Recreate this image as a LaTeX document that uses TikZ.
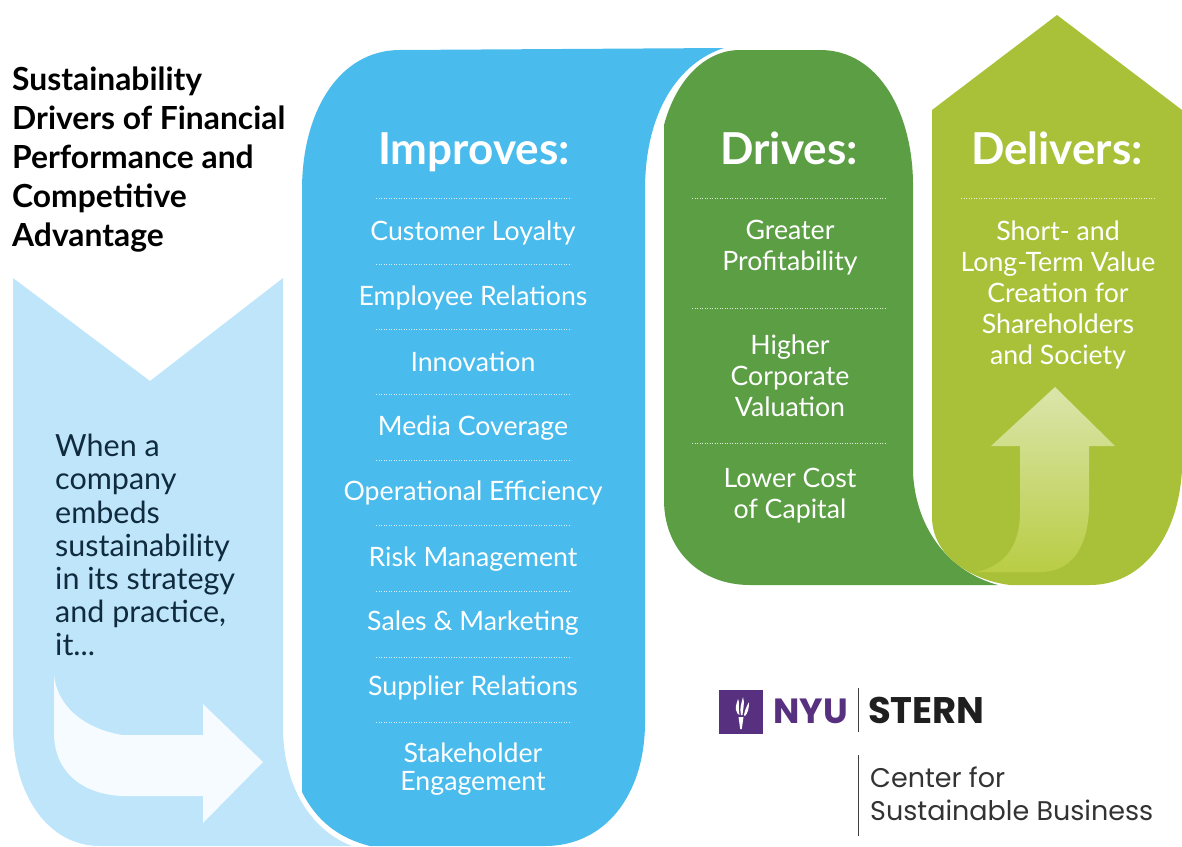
\documentclass[tikz,border=0pt]{standalone}
\usepackage{fontspec}
\setmainfont{Lato}
\newfontfamily\logofont{Poppins}
\definecolor{paleblue}{HTML}{BFE5FB}
\definecolor{arrowwhite}{HTML}{F5FBFF}
\definecolor{improveblue}{HTML}{49BBEC}
\definecolor{drivegreen}{HTML}{5B9E44}
\definecolor{deliverolive}{HTML}{A9C138}
\definecolor{inkblue}{HTML}{0F2B3D}
\definecolor{nyupurple}{HTML}{57307F}
\tikzset{
  heading/.style={anchor=base,text=white,font=\bfseries\fontsize{44}{46}\selectfont},
  item/.style={text=white,align=center,font=\fontsize{26.7}{31}\selectfont},
  sepline/.style={draw=white,line width=.5pt,dotted,opacity=.8},
  rule/.style={draw=black!75,line width=1pt},
}
\begin{document}
\begin{tikzpicture}
  [x=1pt,y=-1pt,every node/.style={inner sep=0pt}]
  \useasboundingbox (0,0) rectangle (1182,846);

  % pale chevron
  \fill[paleblue] (13,278) -- (150,381) -- (283,278) -- (283,727)
    .. controls (283,785) and (310,830) .. (352,846) -- (100,846)
    .. controls (48,846) and (13,795) .. (13,727) -- cycle;
  \fill[arrowwhite] (54,675) .. controls (57,705) and (82,728) .. (122,735)
    -- (203,735) -- (203,704) -- (263,762) -- (203,823) -- (203,796) -- (122,796)
    .. controls (80,794) and (54,770) .. (54,733) -- cycle;

  % improves
  \fill[improveblue] (302,190) .. controls (302,110) and (340,50) .. (400,50)
    -- (724,48) .. controls (680,62) and (645,110) .. (645,190) -- (645,722)
    .. controls (645,795) and (605,846) .. (545,846) -- (370,846)
    .. controls (338,838) and (316,820) .. (302,792) -- cycle;

  % drives
  \fill[drivegreen] (664,125) .. controls (676,80) and (705,50) .. (740,50) -- (820,50)
    .. controls (880,50) and (913,115) .. (913,185) -- (913,473)
    .. controls (916,530) and (950,572) .. (998,585) -- (750,585)
    .. controls (700,585) and (664,550) .. (664,500) -- cycle;

  % delivers
  \fill[deliverolive] (1057,15) -- (1182,110) -- (1182,470)
    .. controls (1178,540) and (1140,585) .. (1090,585) -- (1010,585)
    .. controls (970,580) and (932,555) .. (932,517) -- (932,110) -- cycle;
  \shade[top color=white!58!deliverolive,bottom color=white!10!deliverolive!90!yellow]
    (1055,387) -- (1115,446) -- (1089,446) -- (1089,510)
    .. controls (1087,550) and (1070,572) .. (1040,572) -- (975,572)
    .. controls (1000,568) and (1020,550) .. (1020,513) -- (1020,446) -- (991,446) -- cycle;

  % dotted separators
  \draw[sepline] (376,198) -- (571,198);
  \draw[sepline] (376,264) -- (571,264);
  \draw[sepline] (376,329) -- (571,329);
  \draw[sepline] (376,394) -- (571,394);
  \draw[sepline] (376,460) -- (571,460);
  \draw[sepline] (376,525) -- (571,525);
  \draw[sepline] (376,591) -- (571,591);
  \draw[sepline] (376,657) -- (571,657);
  \draw[sepline] (376,722) -- (571,722);
  \draw[sepline] (692,198) -- (887,198);
  \draw[sepline] (692,308) -- (887,308);
  \draw[sepline] (692,443) -- (887,443);
  \draw[sepline] (961,198) -- (1155,198);

  % headline and lead-in
  \node (title) [anchor=north west,align=left,text=black,
    font=\bfseries\fontsize{31.8}{39}\selectfont] at (12,67)
    {Sustainability\\Drivers of Financial\\Performance and\\Competitive\\Advantage};
  \node (lead) [anchor=north west,align=left,text=inkblue,
    font=\fontsize{30.5}{33.2}\selectfont] at (55,434)
    {When a\\company\\embeds\\sustainability\\in its strategy\\and practice,\\it...};

  % improves column
  \node (improves) [heading] at (474,164) {Improves:};
  \node (loyalty) [item] at (473,233) {Customer Loyalty};
  \node (employee) [item] at (473,298) {Employee Relations};
  \node (innovation) [item] at (473,362) {Innovation};
  \node (media) [item] at (473,428) {Media Coverage};
  \node (efficiency) [item] at (473,493) {Operational Efficiency};
  \node (risk) [item] at (473,559) {Risk Management};
  \node (sales) [item] at (473,623) {Sales \& Marketing};
  \node (supplier) [item] at (473,688) {Supplier Relations};
  \node (stakeholder) [item,font=\fontsize{26.7}{28}\selectfont] at (473,769) {Stakeholder\\Engagement};

  % drives column
  \node (drives) [heading] at (789,164) {Drives:};
  \node (profit) [item] at (790,248) {Greater\\Profitability};
  \node (valuation) [item] at (790,376) {Higher\\Corporate\\Valuation};
  \node (capital) [item] at (790,496) {Lower Cost\\of Capital};

  % delivers column
  \node (delivers) [heading] at (1057,164) {Delivers:};
  \node (value) [item] at (1058,295) {Short- and\\Long-Term Value\\Creation for\\Shareholders\\and Society};

  % logo
  \node (seal) [fill=nyupurple,minimum width=44pt,minimum height=44pt] at (741,712) {};
  \fill[white] (738.5,717) -- (743.5,717) -- (741.8,729) -- (740.2,729) -- cycle;
  \fill[white] (736,710) .. controls (735,704) and (738,702) .. (738,699)
    .. controls (740,702) and (738,707) .. (739.5,715) .. controls (738,715) and (737,713) .. (736,710) -- cycle;
  \fill[white] (741,715) .. controls (739,708) and (742,702) .. (743,697)
    .. controls (745,703) and (743,709) .. (742.5,715) -- cycle;
  \fill[white] (744,715) .. controls (745,709) and (747,706) .. (749,702)
    .. controls (749,708) and (748,713) .. (745,716) -- cycle;
  \node (nyu) [anchor=base west,text=nyupurple,font=\logofont\bfseries\fontsize{35}{35}\selectfont] at (773,723) {NYU};
  \node (stern) [anchor=base west,text=black!88,font=\logofont\bfseries\fontsize{37}{37}\selectfont] at (868,723) {STERN};
  \node (center) [anchor=base west,text=black!80,font=\logofont\fontsize{27}{27}\selectfont] at (870,787) {Center for};
  \node (business) [anchor=base west,text=black!80,font=\logofont\fontsize{27}{27}\selectfont] at (870,820) {Sustainable Business};
  \coordinate (ruletop) at (858,688);
  \coordinate (rulemid) at (858,732);
  \coordinate (rulelow) at (858,755);
  \coordinate (ruleend) at (858,836);
  \draw[rule] (ruletop) -- (rulemid);
  \draw[rule] (rulelow) -- (ruleend);
\end{tikzpicture}
\end{document}
